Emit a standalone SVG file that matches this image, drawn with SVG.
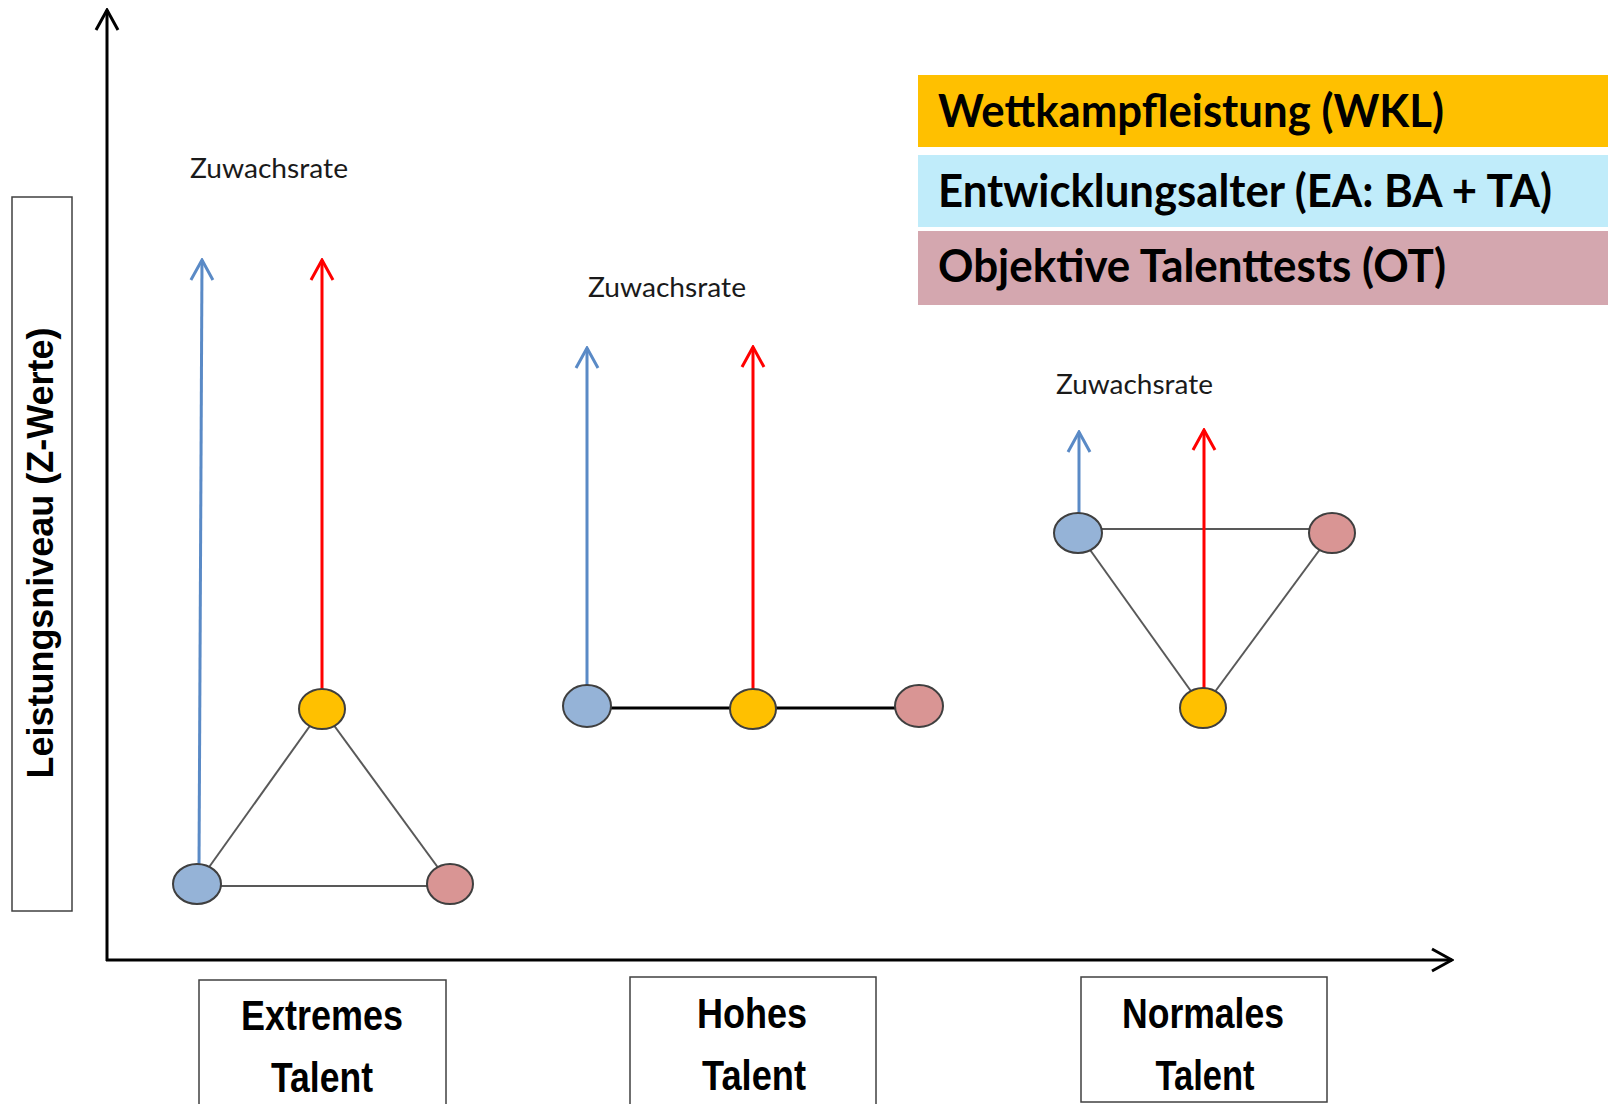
<svg xmlns="http://www.w3.org/2000/svg" width="1608" height="1104" viewBox="0 0 1608 1104">
  <defs>
    <style>
      .axis { stroke: #000; stroke-width: 3; fill: none; }
      .arr-blue { stroke: #5A8AC6; stroke-width: 3; fill: none; }
      .arr-red { stroke: #FF0000; stroke-width: 3; fill: none; }
      .edge { stroke: #595959; stroke-width: 2; fill: none; }
      .edge-bold { stroke: #000; stroke-width: 3; fill: none; }
      .node { stroke: #3F3F3F; stroke-width: 2; }
      .wkl { fill: #FFC000; }
      .ea { fill: #95B3D7; }
      .ot { fill: #D99594; }
      .box { fill: #fff; stroke: #404040; stroke-width: 1.5; }
      .cat { font-family: "Liberation Sans", Arial, sans-serif; font-weight: bold; font-size: 42px; fill: #000; text-anchor: middle; }
      .rate { font-family: Lato, "Open Sans", sans-serif; font-size: 27px; fill: #1a1a1a; }
      .legend { font-family: Lato, "Open Sans", sans-serif; font-weight: bold; font-size: 46px; fill: #000; }
    </style>
    <marker id="head-black" viewBox="-24 -14 26 28" markerWidth="26" markerHeight="28" refX="0" refY="0" orient="auto" markerUnits="userSpaceOnUse">
      <path d="M-20,-11 L0,0 L-20,11" stroke="#000" stroke-width="3" fill="none"/>
    </marker>
    <marker id="head-blue" viewBox="-24 -14 26 28" markerWidth="26" markerHeight="28" refX="0" refY="0" orient="auto" markerUnits="userSpaceOnUse">
      <path d="M-20,-11 L0,0 L-20,11" stroke="#5A8AC6" stroke-width="3" fill="none"/>
    </marker>
    <marker id="head-red" viewBox="-24 -14 26 28" markerWidth="26" markerHeight="28" refX="0" refY="0" orient="auto" markerUnits="userSpaceOnUse">
      <path d="M-20,-11 L0,0 L-20,11" stroke="#FF0000" stroke-width="3" fill="none"/>
    </marker>
  </defs>

  <rect width="1608" height="1104" fill="#fff"/>

  <!-- legend -->
  <g id="legend">
    <rect x="918" y="75" width="690" height="72" fill="#FFC000"/>
    <rect x="918" y="155" width="690" height="72" fill="#C0ECFA"/>
    <rect x="918" y="231" width="690" height="74" fill="#D4A7AF"/>
    <text class="legend" x="938" y="127" textLength="506" lengthAdjust="spacingAndGlyphs">Wettkampfleistung (WKL)</text>
    <text class="legend" x="938" y="207" textLength="614" lengthAdjust="spacingAndGlyphs">Entwicklungsalter (EA: BA + TA)</text>
    <text class="legend" x="938" y="282" textLength="508" lengthAdjust="spacingAndGlyphs">Objektive Talenttests (OT)</text>
  </g>

  <!-- y-axis title -->
  <g id="y-label">
    <rect class="box" x="12" y="197" width="60" height="714"/>
    <text transform="translate(53,553) rotate(-90)" font-family="Liberation Sans, Arial, sans-serif" font-weight="bold" font-size="36" text-anchor="middle" textLength="451" lengthAdjust="spacingAndGlyphs">Leistungsniveau (Z-Werte)</text>
  </g>

  <!-- axes -->
  <g id="axes">
    <line class="axis" x1="107" y1="961" x2="107" y2="10" marker-end="url(#head-black)"/>
    <line class="axis" x1="106" y1="960" x2="1452" y2="960" marker-end="url(#head-black)"/>
  </g>

  <!-- category boxes -->
  <g id="cat-extrem">
    <rect class="box" x="199" y="980" width="247" height="130"/>
    <text class="cat" x="322" y="1030" textLength="162" lengthAdjust="spacingAndGlyphs">Extremes</text>
    <text class="cat" x="322" y="1092" textLength="102" lengthAdjust="spacingAndGlyphs">Talent</text>
  </g>
  <g id="cat-hoch">
    <rect class="box" x="630" y="977" width="246" height="130"/>
    <text class="cat" x="752" y="1028" textLength="110" lengthAdjust="spacingAndGlyphs">Hohes</text>
    <text class="cat" x="754" y="1090" textLength="104" lengthAdjust="spacingAndGlyphs">Talent</text>
  </g>
  <g id="cat-normal">
    <rect class="box" x="1081" y="977" width="246" height="125"/>
    <text class="cat" x="1203" y="1028" textLength="162" lengthAdjust="spacingAndGlyphs">Normales</text>
    <text class="cat" x="1205" y="1090" textLength="99" lengthAdjust="spacingAndGlyphs">Talent</text>
  </g>

  <!-- growth-rate labels -->
  <g id="rate-labels">
    <text class="rate" x="190" y="178" textLength="158" lengthAdjust="spacingAndGlyphs">Zuwachsrate</text>
    <text class="rate" x="588" y="297" textLength="158" lengthAdjust="spacingAndGlyphs">Zuwachsrate</text>
    <text class="rate" x="1056" y="394" textLength="157" lengthAdjust="spacingAndGlyphs">Zuwachsrate</text>
  </g>

  <!-- connectors: triangle edges and growth arrows -->
  <g id="connectors">
    <!-- extreme talent -->
    <line class="edge" x1="322" y1="709" x2="197" y2="884"/>
    <line class="edge" x1="322" y1="709" x2="450" y2="884"/>
    <line class="edge" x1="197" y1="886" x2="450" y2="886"/>
    <line class="arr-blue" x1="199" y1="866" x2="202" y2="260" marker-end="url(#head-blue)"/>
    <line class="arr-red" x1="322" y1="690" x2="322" y2="260" marker-end="url(#head-red)"/>
    <!-- high talent -->
    <line class="edge-bold" x1="587" y1="708" x2="919" y2="708"/>
    <line class="arr-blue" x1="587" y1="685" x2="587" y2="348" marker-end="url(#head-blue)"/>
    <line class="arr-red" x1="753" y1="689" x2="753" y2="347" marker-end="url(#head-red)"/>
    <!-- normal talent -->
    <line class="edge" x1="1078" y1="529" x2="1332" y2="529"/>
    <line class="edge" x1="1078" y1="533" x2="1203" y2="708"/>
    <line class="edge" x1="1332" y1="533" x2="1203" y2="708"/>
    <line class="arr-blue" x1="1079" y1="515" x2="1079" y2="432" marker-end="url(#head-blue)"/>
    <line class="arr-red" x1="1204" y1="690" x2="1204" y2="430" marker-end="url(#head-red)"/>
  </g>

  <!-- nodes -->
  <g id="extrem-wkl"><ellipse class="node wkl" cx="322" cy="709" rx="23" ry="20"/></g>
  <g id="extrem-ea"><ellipse class="node ea" cx="197" cy="884" rx="24" ry="20"/></g>
  <g id="extrem-ot"><ellipse class="node ot" cx="450" cy="884" rx="23" ry="20"/></g>

  <g id="hoch-ea"><ellipse class="node ea" cx="587" cy="706" rx="24" ry="21"/></g>
  <g id="hoch-wkl"><ellipse class="node wkl" cx="753" cy="709" rx="23" ry="20"/></g>
  <g id="hoch-ot"><ellipse class="node ot" cx="919" cy="706" rx="24" ry="21"/></g>

  <g id="normal-ea"><ellipse class="node ea" cx="1078" cy="533" rx="24" ry="20"/></g>
  <g id="normal-ot"><ellipse class="node ot" cx="1332" cy="533" rx="23" ry="20"/></g>
  <g id="normal-wkl"><ellipse class="node wkl" cx="1203" cy="708" rx="23" ry="20"/></g>
</svg>
